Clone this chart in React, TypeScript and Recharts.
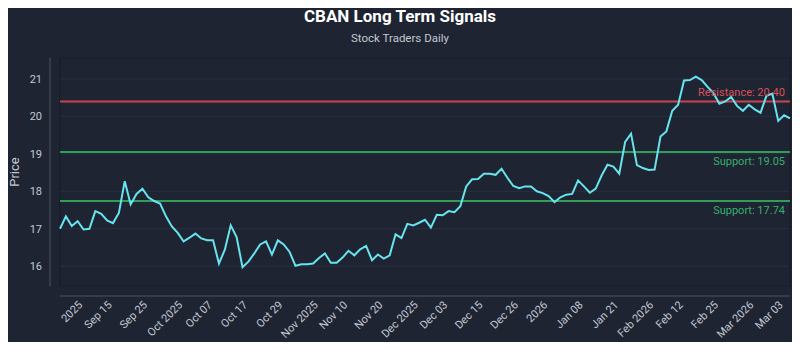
import { LineChart, Line, XAxis, YAxis, CartesianGrid, ReferenceLine, ReferenceArea } from "recharts";

// daily closes
const PRICES = [
  17.0, 17.33, 17.07, 17.2, 16.98, 17.0, 17.47, 17.4, 17.22, 17.15,
  17.42, 18.27, 17.65, 17.93, 18.07, 17.84, 17.74, 17.67, 17.33, 17.06,
  16.89, 16.66, 16.76, 16.87, 16.74, 16.69, 16.69, 16.07, 16.44, 17.09,
  16.78, 15.97, 16.12, 16.34, 16.58, 16.66, 16.31, 16.69, 16.58, 16.38,
  16.01, 16.05, 16.05, 16.07, 16.22, 16.34, 16.09, 16.09, 16.23, 16.41,
  16.29, 16.45, 16.54, 16.16, 16.31, 16.2, 16.29, 16.85, 16.75, 17.13,
  17.09, 17.16, 17.24, 17.03, 17.37, 17.36, 17.47, 17.44, 17.6, 18.13,
  18.32, 18.33, 18.47, 18.47, 18.44, 18.6, 18.36, 18.14, 18.08, 18.13,
  18.13, 18.0, 17.95, 17.87, 17.71, 17.84, 17.91, 17.93, 18.29, 18.13,
  17.96, 18.07, 18.42, 18.71, 18.66, 18.47, 19.32, 19.54, 18.7, 18.62,
  18.57, 18.58, 19.46, 19.6, 20.15, 20.31, 20.96, 20.97, 21.06, 20.97,
  20.79, 20.62, 20.34, 20.4, 20.52, 20.28, 20.15, 20.31, 20.19, 20.1,
  20.55, 20.61, 19.88, 20.03, 19.95,
];

const TICK_INDEX = [3, 8, 14, 20, 25, 31, 37, 43, 48, 54, 60, 65, 71, 77, 82, 88, 94, 100, 105, 111, 117, 122];
const TICK_LABELS = [
  "2025", "Sep 15", "Sep 25", "Oct 2025", "Oct 07", "Oct 17", "Oct 29", "Nov 2025", "Nov 10", "Nov 20", "Dec 2025",
  "Dec 03", "Dec 15", "Dec 26", "2026", "Jan 08", "Jan 21", "Feb 2026", "Feb 12", "Feb 25", "Mar 2026", "Mar 03",
];
const Y_TICKS = [16, 17, 18, 19, 20, 21];

const RESISTANCE = 20.4;
const SUPPORTS = [19.05, 17.74];

const BG = "#1e2432";
const TEXT = "#c3c8d2";
const AXIS = "#4b5263";
const RED = "#c9444f";
const GREEN = "#2f9e58";

export default function App() {
  const data = PRICES.map((price, i) => ({ i, price }));
  const yMin = Math.min(...PRICES) - 0.5;
  const yMax = Math.max(...PRICES) + 0.5;

  return (
    <div style={{ position: "relative", width: 800, height: 350, margin: -8, background: BG, fontFamily: "Roboto, sans-serif" }}>
      <div style={{ position: "absolute", top: 6, width: 800, textAlign: "center", color: "#ffffff", fontSize: 17, fontWeight: 700 }}>
        CBAN Long Term Signals
      </div>
      <div style={{ position: "absolute", top: 31, width: 800, textAlign: "center", color: TEXT, fontSize: 11.5 }}>
        Stock Traders Daily
      </div>
      <LineChart width={800} height={350} data={data} margin={{ top: 58, right: 10, left: 0, bottom: 0 }}>
        {/* spacer axes push the visible axes 10px away from the plot frame */}
        <XAxis xAxisId="gap" dataKey="i" type="number" domain={[0, PRICES.length - 1]} height={10} tick={false} axisLine={false} tickLine={false} />
        <XAxis
          xAxisId="x"
          dataKey="i"
          type="number"
          domain={[0, PRICES.length - 1]}
          ticks={TICK_INDEX}
          interval={0}
          tickFormatter={(v: number) => TICK_LABELS[TICK_INDEX.indexOf(v)]}
          angle={-45}
          textAnchor="end"
          height={54}
          tickLine={false}
          tickSize={2}
          axisLine={{ stroke: AXIS }}
          tick={{ fill: TEXT, fontSize: 11 }}
        />
        <YAxis yAxisId="gap" type="number" domain={[yMin, yMax]} width={10} tick={false} axisLine={false} tickLine={false} />
        <YAxis
          yAxisId="y"
          type="number"
          domain={[yMin, yMax]}
          ticks={Y_TICKS}
          interval={0}
          width={50}
          tickLine={false}
          axisLine={{ stroke: AXIS }}
          tick={{ fill: TEXT, fontSize: 11 }}
          label={{ value: "Price", angle: -90, position: "insideLeft", offset: 14, fill: TEXT, fontSize: 13, style: { textAnchor: "middle" } }}
        />
        <CartesianGrid xAxisId="x" yAxisId="y" vertical={false} stroke="#283043" />
        <ReferenceArea xAxisId="x" yAxisId="y" x1={0} x2={PRICES.length - 1} y1={yMin} y2={yMax} fill="none" stroke="#141925" />
        <ReferenceLine
          xAxisId="x"
          yAxisId="y"
          y={RESISTANCE}
          stroke={RED}
          strokeWidth={2}
          label={{ value: `Resistance: ${RESISTANCE.toFixed(2)}`, position: "insideBottomRight", fill: "#d9505b", fontSize: 11 }}
        />
        {SUPPORTS.map((s) => (
          <ReferenceLine
            key={s}
            xAxisId="x"
            yAxisId="y"
            y={s}
            stroke={GREEN}
            strokeWidth={2}
            label={{ value: `Support: ${s.toFixed(2)}`, position: "insideTopRight", fill: "#36b06a", fontSize: 11 }}
          />
        ))}
        <Line
          xAxisId="x"
          yAxisId="y"
          type="linear"
          dataKey="price"
          stroke="#67e4ee"
          strokeWidth={2}
          dot={false}
          isAnimationActive={false}
        />
      </LineChart>
    </div>
  );
}
